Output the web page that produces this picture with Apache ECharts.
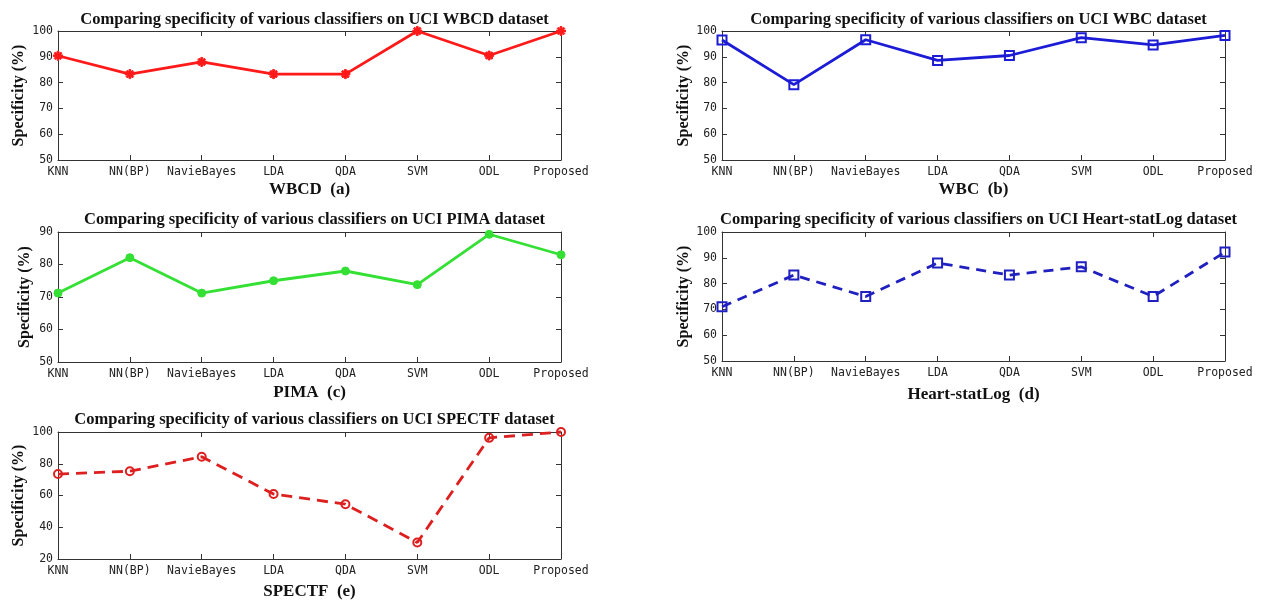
<!DOCTYPE html>
<html>
<head>
<meta charset="utf-8">
<script src="https://cdn.jsdelivr.net/npm/echarts@6/dist/echarts.min.js"></script>
<style>
html,body{margin:0;padding:0;background:#fff;}
#chart{width:1271px;height:609px;}
</style>
</head>
<body>
<div id="chart"></div>
<script>
const categories = ['KNN','NN(BP)','NavieBayes','LDA','QDA','SVM','ODL','Proposed'];
const wbcd   = [90.4, 83.3, 88.0, 83.3, 83.3, 100, 90.5, 100];
const wbc    = [96.5, 79.2, 96.6, 88.6, 90.5, 97.4, 94.6, 98.3];
const pima   = [71.2, 82.1, 71.2, 75.0, 78.0, 73.8, 89.3, 83.0];
const heart  = [71.0, 83.3, 75.0, 88.0, 83.3, 86.5, 75.0, 92.2];
const spectf = [73.5, 75.3, 84.4, 60.9, 54.5, 30.4, 96.3, 100];

const titles = [
  'Comparing specificity of various classifiers on UCI WBCD dataset',
  'Comparing specificity of various classifiers on UCI WBC dataset',
  'Comparing specificity of various classifiers on UCI PIMA dataset',
  'Comparing specificity of various classifiers on UCI Heart-statLog dataset',
  'Comparing specificity of various classifiers on UCI SPECTF dataset'
];
const xNames = ['WBCD  (a)', 'WBC  (b)', 'PIMA  (c)', 'Heart-statLog  (d)', 'SPECTF  (e)'];
const yName = 'Specificity (%)';

const starPath = 'path://M0,4 L10,4 L10,6 L0,6 Z M4,0 L6,0 L6,10 L4,10 Z M2.17,0.75 L9.25,7.83 L7.83,9.25 L0.75,2.17 Z M7.83,0.75 L9.25,2.17 L2.17,9.25 L0.75,7.83 Z';

const panels = [
  {grid:{left:58, top:31, width:503, height:129}, min:50, max:100, interval:10, data:wbcd,
   color:'#ff1a1a', dash:'solid', symbol:starPath, size:9, filled:true, titleTop:6, nameGap:21, yGap:31},
  {grid:{left:722, top:31, width:503, height:129}, min:50, max:100, interval:10, data:wbc,
   color:'#1c1cd6', dash:'solid', symbol:'rect', size:9, filled:false, titleTop:6, nameGap:21, yGap:30},
  {grid:{left:58, top:232, width:503, height:130}, min:50, max:90, interval:10, data:pima,
   color:'#33e033', dash:'solid', symbol:'circle', size:8, filled:true, titleTop:206, nameGap:22, yGap:25},
  {grid:{left:722, top:232, width:503, height:129}, min:50, max:100, interval:10, data:heart,
   color:'#2020c0', dash:[10,7], symbol:'rect', size:9, filled:false, titleTop:206, nameGap:25, yGap:30},
  {grid:{left:58, top:432, width:503, height:127}, min:20, max:100, interval:20, data:spectf,
   color:'#dd1f1f', dash:[11,7], symbol:'circle', size:8, filled:false, titleTop:406, nameGap:24, yGap:31}
];

const axisColor = '#333';
const tickFont = {fontFamily:'DejaVu Sans Mono', fontSize:11.5, color:'#222'};
const serifBold = {fontFamily:'Liberation Serif', fontWeight:'bold', color:'#111'};

const option = {
  backgroundColor:'#fff',
  animation:false,
  title:[], grid:[], xAxis:[], yAxis:[], series:[]
};

panels.forEach((p, i) => {
  option.grid.push(Object.assign({containLabel:false}, p.grid));
  option.title.push({
    text:titles[i],
    left: p.grid.left + p.grid.width/2,
    top: p.titleTop,
    textAlign:'center',
    textStyle:Object.assign({fontSize:16.5}, serifBold)
  });
  option.xAxis.push({
    type:'category', gridIndex:i, data:categories, boundaryGap:false,
    position:'bottom',
    name:xNames[i], nameLocation:'middle', nameGap:p.nameGap,
    nameTextStyle:Object.assign({fontSize:17}, serifBold),
    axisLine:{show:true, lineStyle:{color:axisColor, width:1}},
    axisTick:{show:true, inside:true, length:5, alignWithLabel:true, lineStyle:{color:axisColor}},
    axisLabel:Object.assign({show:true, margin:6, interval:0}, tickFont),
    splitLine:{show:false}
  });
  option.xAxis.push({
    type:'category', gridIndex:i, data:categories, boundaryGap:false,
    position:'top',
    axisLine:{show:true, lineStyle:{color:axisColor, width:1}},
    axisTick:{show:true, inside:true, length:5, lineStyle:{color:axisColor}},
    axisLabel:{show:false}, splitLine:{show:false}
  });
  option.yAxis.push({
    type:'value', gridIndex:i, min:p.min, max:p.max, interval:p.interval,
    position:'left',
    name:yName, nameLocation:'middle', nameGap:p.yGap, nameRotate:90,
    nameTextStyle:Object.assign({fontSize:16}, serifBold),
    axisLine:{show:true, lineStyle:{color:axisColor, width:1}},
    axisTick:{show:true, inside:true, length:5, lineStyle:{color:axisColor}},
    axisLabel:Object.assign({show:true, margin:5}, tickFont),
    splitLine:{show:false}
  });
  option.yAxis.push({
    type:'value', gridIndex:i, min:p.min, max:p.max, interval:p.interval,
    position:'right',
    axisLine:{show:true, lineStyle:{color:axisColor, width:1}},
    axisTick:{show:true, inside:true, length:5, lineStyle:{color:axisColor}},
    axisLabel:{show:false}, splitLine:{show:false}
  });
  option.series.push({
    type:'line',
    xAxisIndex:2*i, yAxisIndex:2*i,
    data:p.data,
    symbol:p.symbol, symbolSize:p.size,
    showAllSymbol:true,
    clip:false,
    lineStyle:{color:p.color, width:2.8, type:p.dash},
    itemStyle: p.filled
      ? {color:p.color, borderColor:p.color, borderWidth:1}
      : {color:'rgba(255,255,255,0)', borderColor:p.color, borderWidth:2},
    z:3
  });
});

const chart = echarts.init(document.getElementById('chart'), null, {renderer:'canvas'});
chart.setOption(option);
</script>
</body>
</html>
